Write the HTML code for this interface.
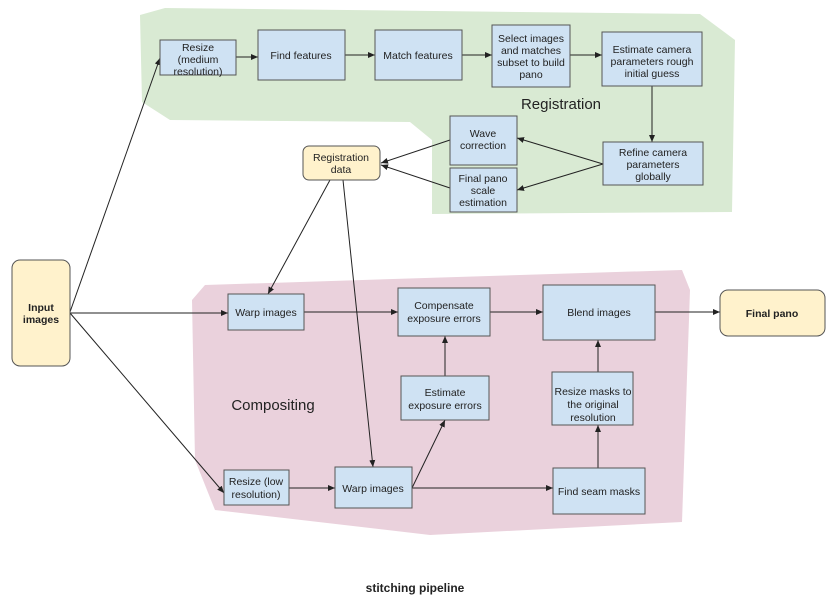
<!DOCTYPE html>
<html><head><meta charset="utf-8"><style>
body{margin:0;background:#fff;}
svg text{font-family:"Liberation Sans",sans-serif;font-size:10.5px;fill:#222;}
</style></head><body>
<svg width="831" height="602" viewBox="0 0 831 602">
<defs><marker id="a" markerWidth="8" markerHeight="8" refX="7" refY="3" orient="auto" markerUnits="userSpaceOnUse"><path d="M0,0 L7,3 L0,6z" fill="#222"/></marker></defs>
<polygon points="140,15 165,8 700,14 735,40 732,212 432,214 432,140 410,122 170,120 142,102" fill="#d9ead3"/>
<polygon points="205,285 520,275 682,270 690,290 682,522 430,535 215,510 195,460 192,300" fill="#ead1dc"/>
<g stroke="#222" stroke-width="1" fill="none" marker-end="url(#a)">
<line x1="70" y1="312" x2="160" y2="58"/>
<line x1="236" y1="57" x2="258" y2="57"/>
<line x1="345" y1="55" x2="375" y2="55"/>
<line x1="462" y1="55" x2="492" y2="55"/>
<line x1="570" y1="55" x2="602" y2="55"/>
<line x1="652" y1="86" x2="652" y2="142"/>
<line x1="603" y1="164" x2="517" y2="138"/>
<line x1="603" y1="164" x2="517" y2="190"/>
<line x1="450" y1="140" x2="381" y2="163"/>
<line x1="450" y1="188" x2="381" y2="165"/>
<line x1="330" y1="180" x2="268" y2="294"/>
<line x1="343" y1="180" x2="373" y2="467"/>
<line x1="70" y1="313" x2="228" y2="313"/>
<line x1="70" y1="313" x2="224" y2="493"/>
<line x1="304" y1="312" x2="398" y2="312"/>
<line x1="490" y1="312" x2="543" y2="312"/>
<line x1="655" y1="312" x2="720" y2="312"/>
<line x1="445" y1="376" x2="445" y2="336"/>
<line x1="289" y1="488" x2="335" y2="488"/>
<line x1="412" y1="488" x2="553" y2="488"/>
<line x1="412" y1="488" x2="445" y2="420"/>
<line x1="598" y1="468" x2="598" y2="425"/>
<line x1="598" y1="372" x2="598" y2="340"/>
</g>
<g fill="#cfe2f3" stroke="#555" stroke-width="1">
<rect x="160" y="40" width="76" height="35"/>
<rect x="258" y="30" width="87" height="50"/>
<rect x="375" y="30" width="87" height="50"/>
<rect x="492" y="25" width="78" height="62"/>
<rect x="602" y="32" width="100" height="54"/>
<rect x="450" y="116" width="67" height="49"/>
<rect x="450" y="168" width="67" height="44"/>
<rect x="603" y="142" width="100" height="43"/>
<rect x="228" y="294" width="76" height="36"/>
<rect x="398" y="288" width="92" height="48"/>
<rect x="543" y="285" width="112" height="55"/>
<rect x="401" y="376" width="88" height="44"/>
<rect x="552" y="372" width="81" height="53"/>
<rect x="224" y="470" width="65" height="35"/>
<rect x="335" y="467" width="77" height="41"/>
<rect x="553" y="468" width="92" height="46"/>
</g>
<g fill="#fff2cc" stroke="#555" stroke-width="1">
<rect x="303" y="146" width="77" height="34" rx="6"/>
<rect x="12" y="260" width="58" height="106" rx="8"/>
<rect x="720" y="290" width="105" height="46" rx="8"/>
</g>
<g text-anchor="middle">
<text x="198" y="51">Resize</text><text x="198" y="63">(medium</text><text x="198" y="75">resolution)</text>
<text x="301" y="59">Find features</text>
<text x="418" y="59">Match features</text>
<text x="531" y="42">Select images</text><text x="531" y="54">and matches</text><text x="531" y="66">subset to build</text><text x="531" y="78">pano</text>
<text x="652" y="53">Estimate camera</text><text x="652" y="65">parameters rough</text><text x="652" y="77">initial guess</text>
<text x="483" y="137">Wave</text><text x="483" y="149">correction</text>
<text x="483" y="182">Final pano</text><text x="483" y="194">scale</text><text x="483" y="206">estimation</text>
<text x="653" y="156">Refine camera</text><text x="653" y="168">parameters</text><text x="653" y="180">globally</text>
<text x="341" y="161">Registration</text><text x="341" y="173">data</text>
<text x="41" y="311" font-weight="bold">Input</text><text x="41" y="323" font-weight="bold">images</text>
<text x="772" y="317" font-weight="bold">Final pano</text>
<text x="266" y="316">Warp images</text>
<text x="444" y="309">Compensate</text><text x="444" y="322">exposure errors</text>
<text x="599" y="316">Blend images</text>
<text x="445" y="396">Estimate</text><text x="445" y="409">exposure errors</text>
<text x="593" y="395">Resize masks to</text><text x="593" y="408">the original</text><text x="593" y="421">resolution</text>
<text x="256" y="485">Resize (low</text><text x="256" y="498">resolution)</text>
<text x="373" y="492">Warp images</text>
<text x="599" y="495">Find seam masks</text>
<text x="561" y="109" style="font-size:15px">Registration</text>
<text x="273" y="410" style="font-size:15px">Compositing</text>
<text x="415" y="592" font-weight="bold" style="font-size:12px">stitching pipeline</text>
</g>
</svg>
</body></html>
